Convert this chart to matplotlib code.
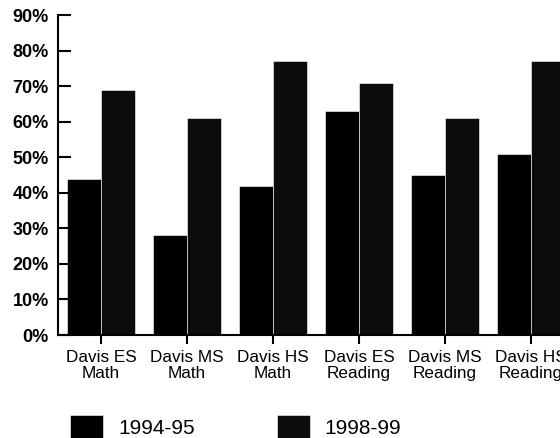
import numpy as np
import matplotlib
matplotlib.use("Agg")
from matplotlib import pyplot as plt

categories = ["Davis ES\nMath", "Davis MS\nMath", "Davis HS\nMath",
              "Davis ES\nReading", "Davis MS\nReading", "Davis HS\nReading"]
y1994 = [44, 28, 42, 63, 45, 51]
y1998 = [69, 61, 77, 71, 61, 77]
yticks = [0, 10, 20, 30, 40, 50, 60, 70, 80, 90]

plt.rcParams['font.family'] = ['Liberation Sans', 'DejaVu Sans']

fig = plt.figure(figsize=(5.6, 4.38), dpi=100)
ax = fig.add_axes([58 / 560, 103 / 438, 516 / 560, 320 / 438])

x = np.arange(len(categories))
w = 0.39
ax.bar(x - w / 2, y1994, w, color='black', edgecolor='white', linewidth=0.4, label='1994-95')
ax.bar(x + w / 2, y1998, w, color='#0c0c0c', edgecolor='white', linewidth=0.4, label='1998-99')

ax.set_xlim(-0.5, len(categories) - 0.5)
ax.set_ylim(0, 90)
ax.set_yticks(yticks)
ax.set_yticklabels([f"{v}%" for v in yticks], fontsize=13, fontweight='bold')
ax.set_xticks(x)
ax.set_xticklabels(categories, fontsize=12.3, linespacing=1.1)

for s in ['top', 'right']:
    ax.spines[s].set_visible(False)
for s in ['left', 'bottom']:
    ax.spines[s].set_linewidth(1.5)
ax.tick_params(axis='y', direction='in', length=9, width=1.5, pad=6.5)
ax.tick_params(axis='x', direction='out', length=6.5, width=1.5, pad=4)

fig.legend(loc='upper left', bbox_to_anchor=(70 / 560, 23 / 438), ncol=2,
           frameon=False, fontsize=15, handlelength=1.6, handleheight=1.4,
           handletextpad=0.7, columnspacing=3.95, borderpad=0, borderaxespad=0)

fig.savefig('out.png', dpi=100)
